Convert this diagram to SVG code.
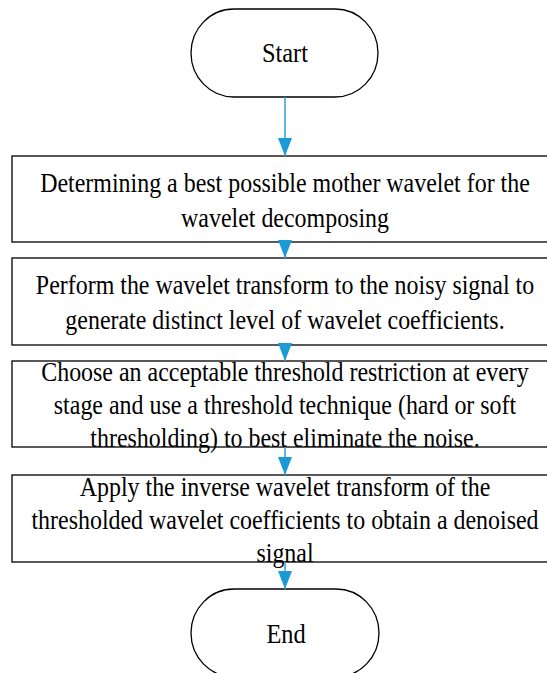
<svg xmlns="http://www.w3.org/2000/svg" width="547" height="673" viewBox="0 0 547 673">
<style>
.shape{fill:#fff;stroke:#000;stroke-width:1.3}
.t{font-family:'Liberation Serif','Times New Roman','DejaVu Serif',serif;font-size:28px;fill:#000;text-anchor:middle}
.c{stroke:#3aa3db;stroke-width:1.6;fill:none}
</style>
<defs>
<marker id="ah" markerUnits="userSpaceOnUse" markerWidth="18" markerHeight="14" refX="18" refY="7" orient="auto">
<path d="M0,0 L18,7 L0,14 z" fill="#1c9ad6"/>
</marker>
</defs>
<rect width="547" height="673" fill="#fff"/>
<g id="start">
<rect class="shape" x="191" y="9" width="187" height="88" rx="43" ry="44"/>
<g transform="translate(285,0) scale(0.87,1)"><text class="t" x="0" y="62">Start</text></g>
</g>
<g id="step1">
<rect class="shape" x="12" y="156" width="546" height="86"/>
<g transform="translate(285,0) scale(0.855,1)">
<text class="t" x="0" y="192">Determining a best possible mother wavelet for the</text>
<text class="t" x="0" y="227">wavelet decomposing</text>
</g>
</g>
<g id="step2">
<rect class="shape" x="12" y="258" width="546" height="87"/>
<g transform="translate(285,0) scale(0.855,1)">
<text class="t" x="0" y="294">Perform the wavelet transform to the noisy signal to</text>
<text class="t" x="0" y="329">generate distinct level of wavelet coefficients.</text>
</g>
</g>
<g id="step3">
<rect class="shape" x="12" y="361" width="546" height="86"/>
<g transform="translate(285,0) scale(0.855,1)">
<text class="t" x="0" y="381">Choose an acceptable threshold restriction at every</text>
<text class="t" x="0" y="414">stage and use a threshold technique (hard or soft</text>
<text class="t" x="0" y="447">thresholding) to best eliminate the noise.</text>
</g>
</g>
<g id="step4">
<rect class="shape" x="12" y="475" width="546" height="87"/>
<g transform="translate(285,0) scale(0.855,1)">
<text class="t" x="0" y="496">Apply the inverse wavelet transform of the</text>
<text class="t" x="0" y="529">thresholded wavelet coefficients to obtain a denoised</text>
<text class="t" x="0" y="562">signal</text>
</g>
</g>
<g id="end">
<rect class="shape" x="191" y="589" width="188" height="88" rx="43" ry="44"/>
<g transform="translate(286,0) scale(0.87,1)"><text class="t" x="0" y="643">End</text></g>
</g>
<g id="connectors">
<line class="c" x1="285" y1="97" x2="285" y2="156" marker-end="url(#ah)"/>
<line class="c" x1="285" y1="242" x2="285" y2="258" marker-end="url(#ah)"/>
<line class="c" x1="285" y1="345" x2="285" y2="361" marker-end="url(#ah)"/>
<line class="c" x1="285" y1="447" x2="285" y2="475" marker-end="url(#ah)"/>
<line class="c" x1="285" y1="562" x2="285" y2="589" marker-end="url(#ah)"/>
</g>
</svg>
